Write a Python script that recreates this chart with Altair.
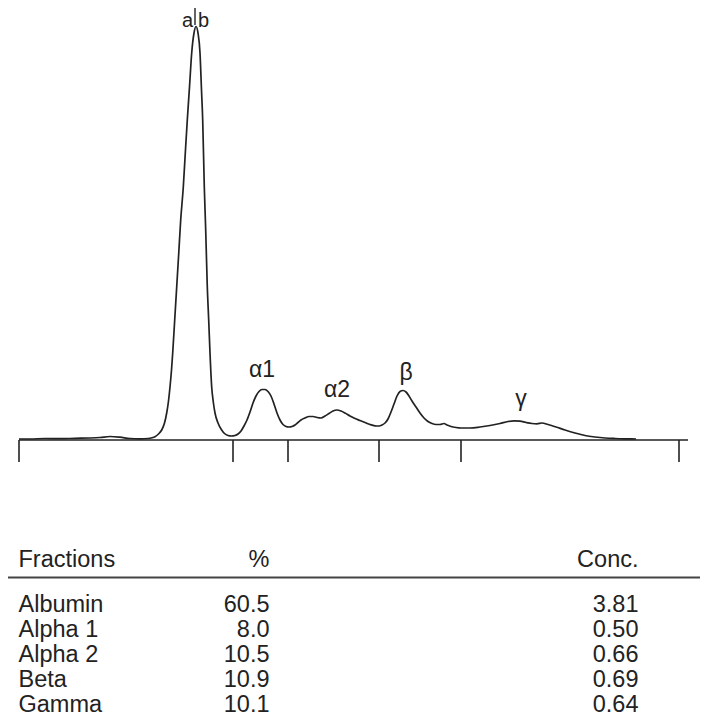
import altair as alt
import pandas as pd

# Densitometer trace (migration position, relative density)
positions = [0, 11, 26, 41, 56, 71, 81, 91, 101, 111, 121, 129, 133, 136, 139.5, 142.7, 145.5,
             147.7, 149.5, 151, 152.5, 153.7, 155.7, 157.7, 159.7, 161.7, 164.3, 166.3, 168.3,
             170.5, 172.7, 175, 177, 179, 181, 182.5, 183.7, 185.3, 186.7, 188.3, 189.7, 191,
             192.7, 194.3, 196, 199, 202.7, 205.5, 209, 212.5, 216, 219, 222, 225, 228, 231,
             234, 237, 240, 243, 246, 249, 252, 255, 258, 261, 264, 267, 270, 273, 276, 279,
             282, 286, 290, 294, 298, 302, 306, 310, 314, 318, 322, 326, 331, 336, 341, 346,
             351, 356, 360, 363, 366, 369, 372, 375, 378, 381, 384, 387, 390, 393, 397, 401,
             405, 409, 413, 417, 421, 425, 428, 432, 437, 442, 451, 461, 471, 481, 489, 495,
             501, 507, 513, 518, 523, 529, 537, 546, 556, 566, 576, 586, 596, 606, 617]
density = [1, 1, 1.5, 1.3, 1.7, 2, 2.5, 3.5, 2.8, 1.5, 1.2, 1.5, 2.2, 3.3, 6, 10, 17,
           27, 39, 53, 70, 87, 120, 153, 186, 220, 253, 287, 320,
           353, 387, 407, 413.5, 407, 387, 350, 320, 253, 210, 153, 120, 87,
           53, 38, 27, 17, 10, 6.5, 4.5, 4, 4.5, 6, 9, 14, 20, 28,
           37, 44, 48.5, 50.5, 50.5, 48.5, 44, 36, 27, 20, 15.5, 13.5, 13, 13.5, 15, 17.5,
           20, 22, 23.5, 23.5, 22.5, 22, 24, 26.5, 29, 30, 29, 27, 24, 21.5, 19.5, 17.5,
           15.5, 14.2, 14, 15, 17, 21, 28, 36, 44, 48.5, 49.5, 48, 44, 39, 33, 27,
           22, 18.5, 16.5, 15.5, 15.5, 16.5, 15, 13.5, 12.5, 12, 12, 13, 14.5, 16.5, 18.5, 19.2,
           18.8, 17.5, 16.5, 16.2, 17, 15.5, 13, 10, 7, 4.5, 3, 2, 1.5, 1.2, 1]

# Fraction boundaries on the migration axis
boundaries = [0, 214, 269, 360, 442, 660]
axis_end = 669

# Peak labels
peak_labels = ["α1", "α2", "β", "γ"]
peak_x = [243, 318, 387, 502]
peak_y = [63, 43, 60, 34]
alb_x = 176
alb_y = 413

# Result table
fractions = ["Albumin", "Alpha 1", "Alpha 2", "Beta", "Gamma"]
percent = [60.5, 8.0, 10.5, 10.9, 10.1]
conc = [3.81, 0.50, 0.66, 0.69, 0.64]
headers = ["Fractions", "%", "Conc."]

FONT = "Liberation Sans"
INK = "#222222"
W, H = 692, 710

trace_df = pd.DataFrame({"pos": positions, "density": density})
bound_df = pd.DataFrame({"b": boundaries})
base_df = pd.DataFrame({"start": [boundaries[0]], "end": [axis_end], "level": [0]})
label_df = pd.DataFrame({"label": peak_labels, "x": peak_x, "y": peak_y})
alb_df = pd.DataFrame({"x": [alb_x], "y": [alb_y]})
table_df = pd.DataFrame({"fraction": fractions, "pct": percent, "conc": conc})
one = pd.DataFrame({"k": [0]})

xs = alt.Scale(domain=[-11, 681], nice=False, zero=False)
ys = alt.Scale(domain=[-278, 432], nice=False, zero=False)

trace = alt.Chart(trace_df).mark_line(color=INK, strokeWidth=1.7, interpolate="monotone").encode(
    x=alt.X("pos:Q", scale=xs, axis=None),
    y=alt.Y("density:Q", scale=ys, axis=None),
)

baseline = alt.Chart(base_df).mark_rule(color=INK, strokeWidth=1.6).encode(
    x=alt.X("start:Q", scale=xs, axis=None),
    x2="end:Q",
    y=alt.Y("level:Q", scale=ys, axis=None),
)

ticks = alt.Chart(bound_df).mark_rule(color=INK, strokeWidth=1.6).encode(
    x=alt.X("b:Q", scale=xs, axis=None),
    y=alt.Y(datum=0, scale=ys, axis=None),
    y2=alt.Y2(datum=-22),
)

LFS = 23
labels = alt.Chart(label_df).mark_text(font=FONT, fontSize=LFS, color=INK, baseline="alphabetic").encode(
    x=alt.X("x:Q", scale=xs, axis=None),
    y=alt.Y("y:Q", scale=ys, axis=None),
    text="label:N",
)

AFS = 20
alb_a = alt.Chart(alb_df).mark_text(font=FONT, fontSize=AFS, color=INK, baseline="alphabetic",
                                    align="right", dx=-2, text="a").encode(
    x=alt.X("x:Q", scale=xs, axis=None),
    y=alt.Y("y:Q", scale=ys, axis=None),
)
alb_b = alt.Chart(alb_df).mark_text(font=FONT, fontSize=AFS, color=INK, baseline="alphabetic",
                                    align="left", dx=3, text="b").encode(
    x=alt.X("x:Q", scale=xs, axis=None),
    y=alt.Y("y:Q", scale=ys, axis=None),
)
alb_bar = alt.Chart(alb_df).mark_rule(color=INK, strokeWidth=1.4).encode(
    x=alt.X("x:Q", scale=xs, axis=None),
    y=alt.Y(datum=415, scale=ys, axis=None),
    y2=alt.Y2(datum=440),
)

row_scale = alt.Scale(type="point", domain=fractions, range=[603.5, 704], padding=0)
TFS = 23.5
NAME_X, PCT_X, CONC_X = 10.5, 261.5, 630.5
HEAD_Y, RULE_Y = 559, 569.5

names = alt.Chart(table_df).mark_text(font=FONT, fontSize=TFS, color=INK, align="left",
                                      baseline="alphabetic").encode(
    x=alt.value(NAME_X),
    y=alt.Y("fraction:N", scale=row_scale, axis=None),
    text="fraction:N",
)
pcts = alt.Chart(table_df).mark_text(font=FONT, fontSize=TFS, color=INK, align="right",
                                     baseline="alphabetic").encode(
    x=alt.value(PCT_X),
    y=alt.Y("fraction:N", scale=row_scale, axis=None),
    text=alt.Text("pct:Q", format=".1f"),
)
concs = alt.Chart(table_df).mark_text(font=FONT, fontSize=TFS, color=INK, align="right",
                                      baseline="alphabetic").encode(
    x=alt.value(CONC_X),
    y=alt.Y("fraction:N", scale=row_scale, axis=None),
    text=alt.Text("conc:Q", format=".2f"),
)

h1 = alt.Chart(one).mark_text(font=FONT, fontSize=TFS, color=INK, align="left",
                              baseline="alphabetic", text=headers[0]).encode(
    x=alt.value(NAME_X), y=alt.value(HEAD_Y))
h2 = alt.Chart(one).mark_text(font=FONT, fontSize=TFS, color=INK, align="right",
                              baseline="alphabetic", text=headers[1]).encode(
    x=alt.value(PCT_X), y=alt.value(HEAD_Y))
h3 = alt.Chart(one).mark_text(font=FONT, fontSize=TFS, color=INK, align="right",
                              baseline="alphabetic", text=headers[2]).encode(
    x=alt.value(CONC_X), y=alt.value(HEAD_Y))
hrule = alt.Chart(one).mark_rule(color="#444444", strokeWidth=1.8).encode(
    x=alt.value(-8), x2=alt.value(W), y=alt.value(RULE_Y))

chart = alt.layer(
    trace, baseline, ticks, labels, alb_a, alb_b, alb_bar,
    names, pcts, concs, h1, h2, h3, hrule,
).resolve_scale(y="independent").properties(
    width=W, height=H, padding=0, autosize=alt.AutoSizeParams(type="none"),
    background="white",
).configure_view(stroke=None)

chart.save("out.html", embed_options={"renderer": "svg", "actions": False})
